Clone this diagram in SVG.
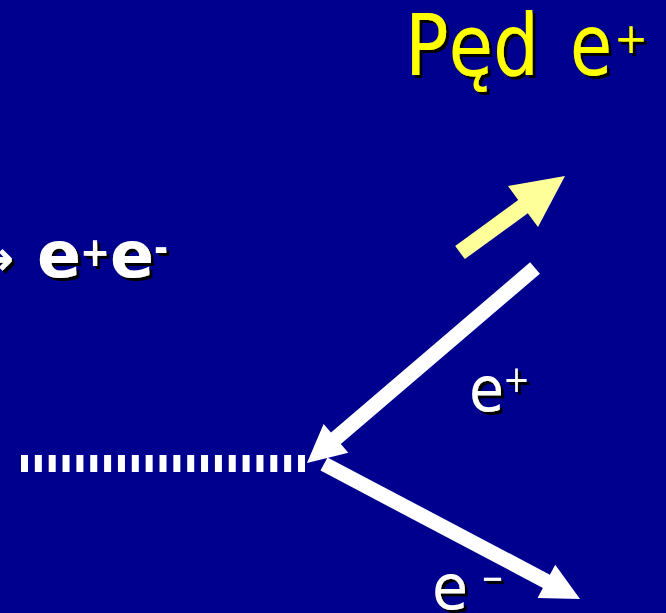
<svg xmlns="http://www.w3.org/2000/svg" width="666" height="613" viewBox="0 0 666 613">
<defs>
<filter id="sh" x="-20%" y="-20%" width="150%" height="150%">
<feDropShadow dx="3" dy="3" stdDeviation="0" flood-color="#000000" flood-opacity="1"/>
</filter>
</defs>
<style>
.t{font-family:"DejaVu Sans Condensed","DejaVu Sans",sans-serif;filter:url(#sh)}
.w{fill:#ffffff}
.y{fill:#ffff00}
.b{font-family:"DejaVu Sans","Verdana",sans-serif;font-weight:bold}
.arr{fill:#ffffff}
</style>
<rect width="666" height="613" fill="#00008E"/>
<g id="title">
<text class="t y" x="405" y="75" font-size="86" textLength="134" lengthAdjust="spacingAndGlyphs">Pęd</text>
<text class="t y" x="570" y="75" font-size="86" textLength="42" lengthAdjust="spacingAndGlyphs">e</text>
<text class="t y" x="614" y="53" font-size="42" textLength="34" lengthAdjust="spacingAndGlyphs">+</text>
</g>
<g id="reaction">
<text class="t w b" x="14" y="275" font-size="48" text-anchor="end">→</text>
<text class="t w b" x="37" y="277" font-size="64" textLength="44" lengthAdjust="spacingAndGlyphs">e</text>
<text class="t w b" x="80" y="266" font-size="40" textLength="30" lengthAdjust="spacingAndGlyphs">+</text>
<text class="t w b" x="110" y="277" font-size="64" textLength="44" lengthAdjust="spacingAndGlyphs">e</text>
<text class="t w b" x="154" y="262" font-size="40" textLength="14" lengthAdjust="spacingAndGlyphs">-</text>
</g>
<g id="photon">
<line x1="21" y1="463.5" x2="305" y2="463.5" stroke="#ffffff" stroke-width="17" stroke-dasharray="7 6.85"/>
</g>
<g id="connectors">
<polygon id="momentum" fill="#FFFF99" points="455.2,245.9 518.2,200.0 508.0,186.1 565,176 538.0,227.1 527.8,213.2 464.8,259.1"/>
<polygon id="positron" class="arr" points="530.1,262.3 331.0,432.6 323.6,423.9 307,463 348.3,452.7 340.8,444.0 539.9,273.7"/>
<polygon id="electron" class="arr" points="327.5,457.4 549.9,574.7 555.2,564.7 580,599 537.6,597.9 542.9,587.9 320.5,470.6"/>
</g>
<g id="label-positron">
<text class="t w" x="469" y="411" font-size="62" textLength="35" lengthAdjust="spacingAndGlyphs">e</text>
<text class="t w" x="503" y="392" font-size="38" textLength="27" lengthAdjust="spacingAndGlyphs">+</text>
</g>
<g id="label-electron">
<text class="t w" x="432" y="609" font-size="62" textLength="36" lengthAdjust="spacingAndGlyphs">e</text>
<text class="t w" x="481" y="591" font-size="38" textLength="23" lengthAdjust="spacingAndGlyphs">−</text>
</g>
</svg>
